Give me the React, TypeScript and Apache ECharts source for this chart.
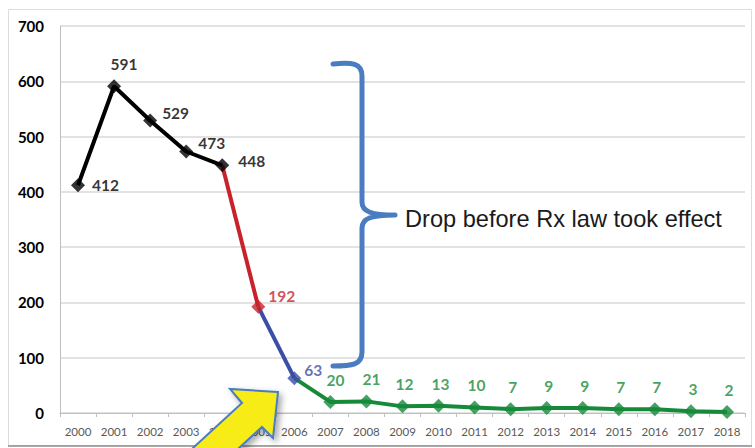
import React, { useEffect, useRef } from "react";
import * as echarts from "echarts";

const years = ["2000","2001","2002","2003","2004","2005","2006","2007","2008","2009","2010","2011","2012","2013","2014","2015","2016","2017","2018"];
const values = [412, 591, 529, 473, 448, 192, 63, 20, 21, 12, 13, 10, 7, 9, 9, 7, 7, 3, 2];
const yTicks = [0, 100, 200, 300, 400, 500, 600, 700];
const segmentStarts = [0, 4, 5, 6];
const segmentEnds = [4, 5, 6, 18];
const annotationText = "Drop before Rx law took effect";

const BLACK = "#000000";
const RED = "#c8232c";
const BLUE = "#3b4ea6";
const GREEN = "#178a3a";
const segmentColors = [BLACK, RED, BLUE, GREEN];

const bracePath =
  "M333,64 C352,62 362,63 362,76 L362,202 C362,212 372,215 395,215 C372,215 362,218 362,228 L362,352 C362,365 352,366 333,366";
echarts.graphic.registerShape("brace", echarts.graphic.extendPath(bracePath, {}));

function pointColor(i: number): string {
  if (i <= 4) return BLACK;
  if (i === 5) return RED;
  if (i === 6) return BLUE;
  return GREEN;
}

function labelFor(i: number): any {
  const base: any = {
    show: true,
    color: pointColor(i),
    fontFamily: "Lato",
    fontWeight: "bold",
    fontSize: 15.5,
  };
  if (i === 0) return { ...base, position: "right", distance: 7 };
  if (i === 1) return { ...base, position: "top", distance: 7, offset: [10, 0] };
  if (i === 2 || i === 3) return { ...base, position: "right", distance: 5, offset: [0, -8] };
  if (i === 4) return { ...base, position: "right", distance: 9, offset: [0, -4] };
  if (i === 5) return { ...base, position: "right", distance: 3, offset: [0, -11] };
  if (i === 6) return { ...base, position: "right", distance: 3, offset: [0, -8] };
  if (i === 7 || i === 8) return { ...base, position: "top", distance: 7, offset: [5, 0] };
  return { ...base, position: "top", distance: 7, offset: [2, 0] };
}

export default function App() {
  const ref = useRef<HTMLDivElement>(null);
  useEffect(() => {
    document.body.style.margin = "0";
    const chart = echarts.init(ref.current!, undefined, { renderer: "svg" });
    const lineSeries = segmentStarts.map((s, k) => ({
      type: "line",
      data: values.map((v, i) => (i >= s && i <= segmentEnds[k] ? v : null)),
      symbol: "none",
      lineStyle: { color: segmentColors[k], width: 4 },
      z: 2,
    }));
    const markers = {
      type: "scatter",
      symbol: "diamond",
      symbolSize: 14,
      z: 3,
      data: values.map((v, i) => ({
        value: v,
        itemStyle: { color: pointColor(i) },
        label: labelFor(i),
      })),
    };
    chart.setOption({
      animation: false,
      backgroundColor: "#ffffff",
      grid: { left: 60, right: 10, top: 26, bottom: 35 },
      xAxis: {
        type: "category",
        data: years,
        axisLine: { lineStyle: { color: "#bfbfbf", width: 1 } },
        axisTick: { show: true, length: 4, lineStyle: { color: "#bfbfbf" } },
        axisLabel: { color: "#595959", fontFamily: "Lato", fontSize: 11.5, margin: 12, interval: 0 },
      },
      yAxis: {
        type: "value",
        min: yTicks[0],
        max: yTicks[yTicks.length - 1],
        interval: yTicks[1] - yTicks[0],
        axisLine: { show: true, lineStyle: { color: "#bfbfbf", width: 1 } },
        axisTick: { show: false },
        splitLine: { lineStyle: { color: "#d9d9d9", width: 1.5 } },
        axisLabel: { color: "#000", fontFamily: "Lato", fontWeight: "bold", fontSize: 15, margin: 16 },
      },
      series: [...lineSeries, markers],
      graphic: [
        {
          type: "rect",
          shape: { x: 8.5, y: 9.5, width: 743, height: 436 },
          style: { fill: "none", stroke: "#dcdcdc", lineWidth: 1 },
          silent: true,
          z: 0,
        },
        {
          type: "line",
          shape: { x1: 8, y1: 446, x2: 752, y2: 446 },
          style: { stroke: "#8c8c8c", lineWidth: 1.5 },
          z: 0,
        },
        {
          type: "brace",
          x: 0,
          y: 0,
          style: { fill: null, stroke: "#4a7cc1", lineWidth: 5, lineCap: "round", lineJoin: "round" },
          z: 10,
        },
        {
          type: "text",
          x: 405,
          y: 219,
          style: {
            text: annotationText,
            fill: "#1a1a1a",
            font: "23.6px 'Liberation Sans', Arial, sans-serif",
            verticalAlign: "middle",
            align: "left",
          },
          z: 10,
        },
        {
          type: "polygon",
          shape: {
            points: [
              [278, 392],
              [230, 389],
              [242, 403],
              [169, 470],
              [215, 470],
              [262, 427],
              [273, 438],
            ],
          },
          style: {
            fill: "#f8ec17",
            stroke: "#4a7cc1",
            lineWidth: 2,
            shadowBlur: 6,
            shadowColor: "rgba(0,0,0,0.35)",
            shadowOffsetX: 3,
            shadowOffsetY: 3,
          },
          z: 20,
        },
      ],
    });
    return () => chart.dispose();
  }, []);
  return <div ref={ref} style={{ width: 755, height: 448, position: "absolute", left: 0, top: 0 }} />;
}
